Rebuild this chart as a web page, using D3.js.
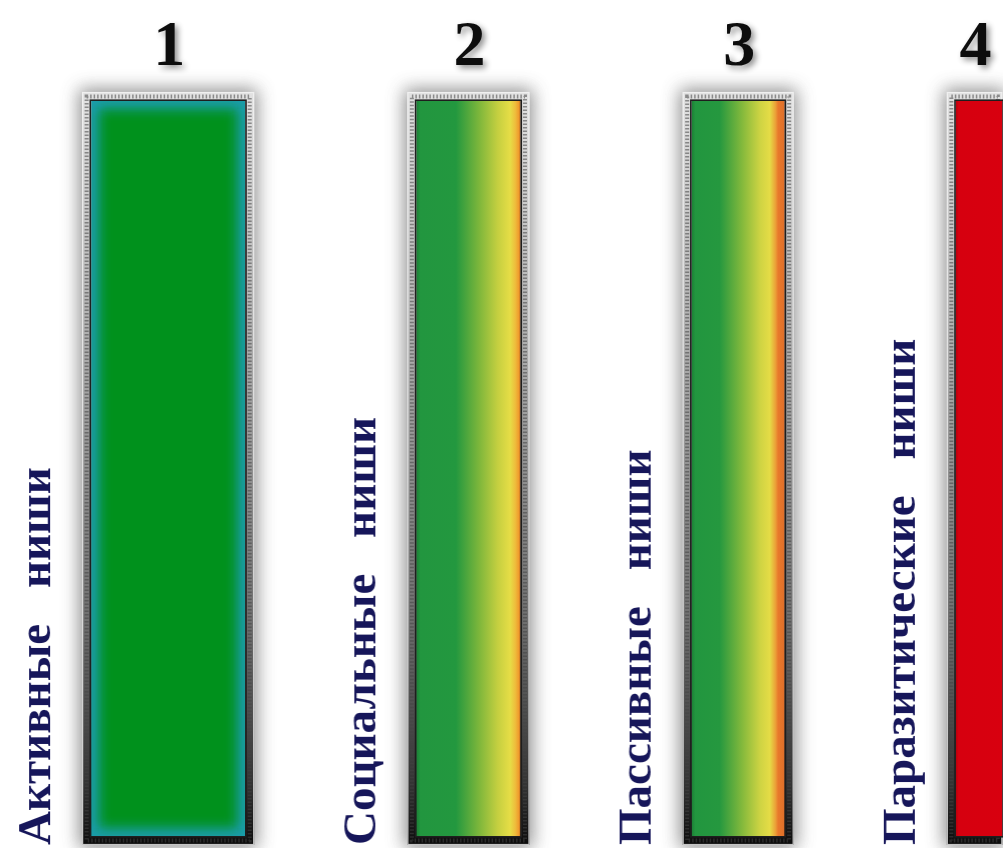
<!DOCTYPE html>
<html lang="ru">
<head>
    <meta charset="UTF-8">
    <script src="https://cdnjs.cloudflare.com/ajax/libs/d3/7.9.0/d3.min.js"></script>
    <title>Ниши</title>
    <style>
        body {
            margin: 0;
            background-color: white;
        }

        svg {
            display: block;
        }
    </style>
</head>
<body>
    <div id="chart"></div>
    <script>
        // data
        const numbers = ["1", "2", "3", "4"];
        const labels = ["Активные ниши", "Социальные ниши", "Пассивные ниши", "Паразитические ниши"];
        const barWidths = [1.55, 1.1, 1.0, 0.5];   // relative column widths (last one runs off the picture)
        const barHeights = [1, 1, 1, 1];

        const width = 1003;
        const height = 848;
        const startUnits = 0.74;
        const gapUnits = 1.38;
        const frame = 9;

        const svg = d3.select("#chart").append("svg")
            .attr("width", width)
            .attr("height", height);

        // one unit = width of column 3
        const x = d3.scaleLinear().domain([0, 1]).range([0, 111]);
        const y = d3.scaleLinear().domain([0, 1]).range([845, 92]);

        const offsets = [];
        barWidths.reduce((acc, w, i) => {
            offsets[i] = acc;
            return acc + w + gapUnits;
        }, startUnits);

        const bars = numbers.map((n, i) => ({
            num: n,
            label: labels[i],
            x0: x(offsets[i]),
            w: x(barWidths[i]),
            y0: y(barHeights[i]),
            y1: y(0),
            last: i === numbers.length - 1
        }));

        const defs = svg.append("defs");

        // soft shadow around the frames
        defs.append("filter").attr("id", "blur8")
            .attr("x", "-50%").attr("y", "-10%").attr("width", "200%").attr("height", "120%")
            .append("feGaussianBlur").attr("stdDeviation", 9);

        defs.append("filter").attr("id", "blur4")
            .attr("x", "-30%").attr("y", "-10%").attr("width", "160%").attr("height", "120%")
            .append("feGaussianBlur").attr("stdDeviation", 6);

        // number shadow
        const ts = defs.append("filter").attr("id", "numShadow")
            .attr("x", "-50%").attr("y", "-50%").attr("width", "200%").attr("height", "200%");
        ts.append("feGaussianBlur").attr("in", "SourceAlpha").attr("stdDeviation", 3).attr("result", "b");
        ts.append("feOffset").attr("in", "b").attr("dx", 3).attr("dy", 3).attr("result", "o");
        ts.append("feComponentTransfer").attr("in", "o").attr("result", "s")
            .append("feFuncA").attr("type", "linear").attr("slope", 0.45);
        const tm = ts.append("feMerge");
        tm.append("feMergeNode").attr("in", "s");
        tm.append("feMergeNode").attr("in", "SourceGraphic");

        const soft = defs.append("filter").attr("id", "soft");
        soft.append("feGaussianBlur").attr("stdDeviation", 0.6);

        // frame: silver at top, dark at the bottom
        const fg = defs.append("linearGradient").attr("id", "frameGrad")
            .attr("x1", 0).attr("y1", 0).attr("x2", 0).attr("y2", 1);
        [[0, "#e2e2e2"], [0.35, "#ababab"], [0.7, "#707070"], [0.92, "#333"], [1, "#0c0c0c"]]
            .forEach(s => fg.append("stop").attr("offset", s[0]).attr("stop-color", s[1]));

        const fills = [
            null,
            [[0, "#1c7f36"], [0.04, "#22963f"], [0.38, "#23983f"], [0.6, "#7cb63b"], [0.78, "#c4cf40"],
             [0.9, "#e6dd46"], [0.95, "#eebd3c"], [0.985, "#ef9a2c"], [1, "#b8661c"]],
            [[0, "#1c7f36"], [0.04, "#22963f"], [0.3, "#25983f"], [0.55, "#86ba3c"], [0.74, "#cfd443"],
             [0.84, "#e5dc46"], [0.9, "#eba238"], [0.93, "#e8792b"], [0.99, "#e0702a"], [1, "#a8501c"]],
            [[0, "#b8000c"], [0.06, "#d6000f"], [1, "#d8000f"]]
        ];
        fills.forEach((stops, i) => {
            if (!stops) return;
            const g = defs.append("linearGradient").attr("id", "fill" + i)
                .attr("x1", 0).attr("y1", 0).attr("x2", 1).attr("y2", 0);
            stops.forEach(s => g.append("stop").attr("offset", s[0]).attr("stop-color", s[1]));
        });

        bars.forEach((d, i) => {
            defs.append("clipPath").attr("id", "clip" + i)
                .append("rect")
                .attr("x", d.x0 + frame).attr("y", d.y0 + frame)
                .attr("width", d.w - 2 * frame).attr("height", d.y1 - d.y0 - 2 * frame);
        });

        const g = svg.selectAll("g.col").data(bars).enter().append("g").attr("class", "col");

        // shadow
        g.append("rect")
            .attr("x", d => d.x0 - 3).attr("y", d => d.y0 - 3)
            .attr("width", d => d.w + 6).attr("height", d => d.y1 - d.y0 + 6)
            .attr("fill", "#7a7a7a")
            .attr("opacity", 0.85)
            .attr("filter", "url(#blur8)");

        // frame
        g.append("rect")
            .attr("x", d => d.x0).attr("y", d => d.y0)
            .attr("width", d => d.w).attr("height", d => d.y1 - d.y0)
            .attr("fill", "url(#frameGrad)");

        // frame texture
        g.append("rect")
            .attr("x", d => d.x0 + frame / 2).attr("y", d => d.y0 + frame / 2)
            .attr("width", d => d.w - frame).attr("height", d => d.y1 - d.y0 - frame)
            .attr("fill", "none")
            .attr("stroke", "#444")
            .attr("stroke-width", 4)
            .attr("stroke-dasharray", "1.5 2")
            .attr("opacity", 0.55);

        g.append("rect")
            .attr("x", d => d.x0 + 0.5).attr("y", d => d.y0 + 0.5)
            .attr("width", d => d.w - 1).attr("height", d => d.y1 - d.y0 - 1)
            .attr("fill", "none")
            .attr("stroke", "#f4f4f4")
            .attr("stroke-width", 1.2)
            .attr("opacity", 0.8);

        // inner fill
        g.each(function (d, i) {
            const sel = d3.select(this);
            const ix = d.x0 + frame, iy = d.y0 + frame;
            const iw = d.w - (d.last ? frame : 2 * frame), ih = d.y1 - d.y0 - 2 * frame;
            if (i === 0) {
                const c = sel.append("g").attr("clip-path", "url(#clip0)");
                c.append("rect").attr("x", ix).attr("y", iy).attr("width", iw).attr("height", ih)
                    .attr("fill", "#1a9cab");
                c.append("rect").attr("x", ix + 8).attr("y", iy + 8).attr("width", iw - 16).attr("height", ih - 16)
                    .attr("fill", "#00911f")
                    .attr("filter", "url(#blur4)");
            } else {
                sel.append("rect").attr("x", ix).attr("y", iy).attr("width", iw).attr("height", ih)
                    .attr("fill", "url(#fill" + i + ")");
            }
            sel.append("rect").attr("x", ix - 0.8).attr("y", iy - 0.8)
                .attr("width", iw + 1.6).attr("height", ih + 1.6)
                .attr("fill", "none")
                .attr("stroke", "#1e1e1e")
                .attr("stroke-width", 1.6);
        });

        // numbers
        g.append("text")
            .attr("x", d => d.x0 + d.w / 2 + 1)
            .attr("y", 65)
            .attr("text-anchor", "middle")
            .attr("font-family", "'Liberation Serif', 'Times New Roman', serif")
            .attr("font-weight", "bold")
            .attr("font-size", 64)
            .attr("fill", "#111")
            .attr("filter", "url(#numShadow)")
            .text(d => d.num);

        // rotated labels
        g.append("text")
            .attr("transform", d => `translate(${d.x0 - 32}, 845) rotate(-90)`)
            .attr("text-anchor", "start")
            .attr("font-family", "'Liberation Serif', 'Times New Roman', serif")
            .attr("font-weight", "bold")
            .attr("font-size", 47)
            .attr("fill", "#17175a")
            .attr("word-spacing", 24)
            .attr("filter", "url(#soft)")
            .text(d => d.label);
    </script>
</body>
</html>
